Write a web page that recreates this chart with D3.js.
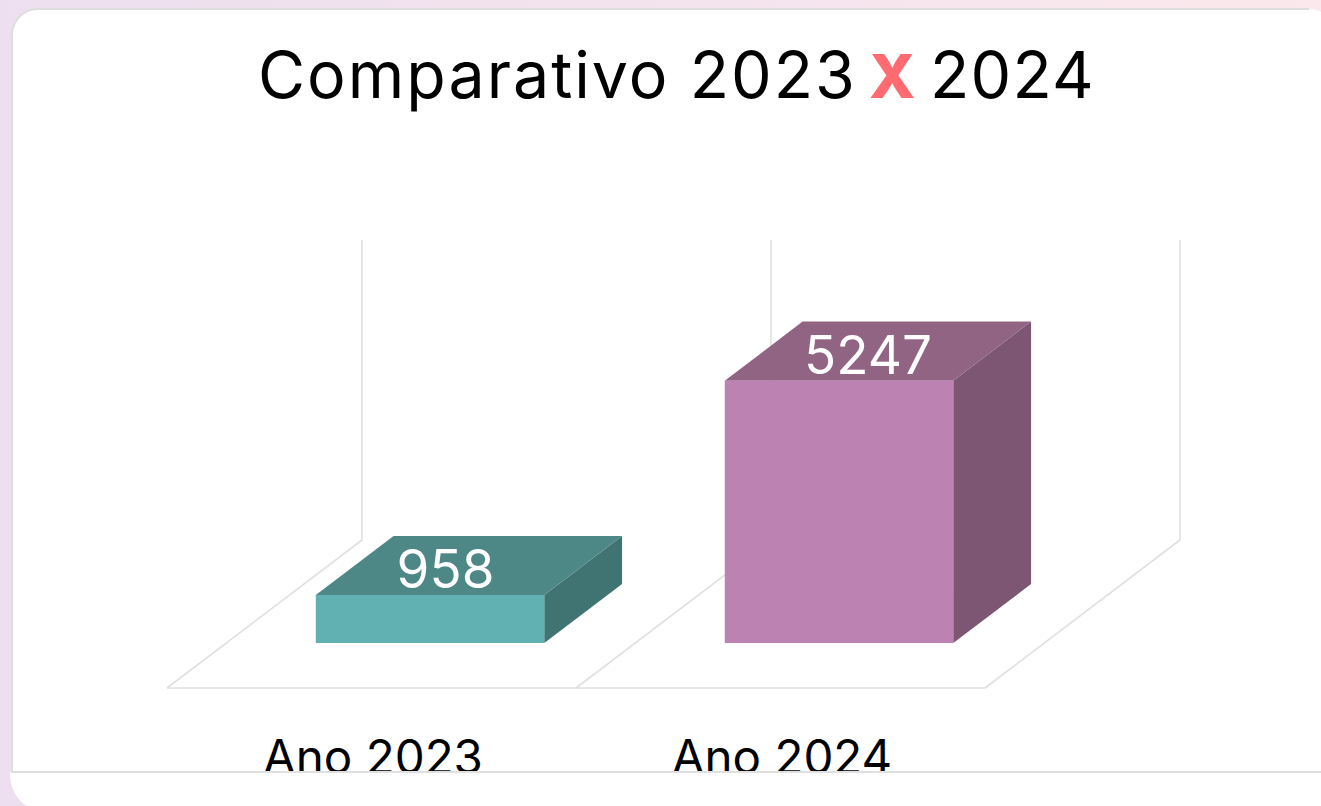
<!DOCTYPE html>
<html><head><meta charset="utf-8">
<style>html,body{margin:0;padding:0;background:#fff;overflow:hidden}svg{display:block}</style>
<script src="https://cdn.jsdelivr.net/npm/d3@7"></script></head>
<body><svg id="c" width="1321" height="806"></svg>
<script>
const categories = ["Ano 2023","Ano 2024"];
const values = [958,5247];
const yTicks = [0,6000];
const frontColors = ["#62b1b2","#bc82b2"];
const topColors = ["#4d8887","#916484"];
const sideColors = ["#407473","#7c5672"];
const titleTexts = ["Comparativo 2023","X","2024"];
const titleColors = ["#000","#ff6b70","#000"];
const titleWeights = [400,800,400];

const svg = d3.select("#c");
const font = "Inter, 'Open Sans', sans-serif";
const defs = svg.append("defs");
const g = defs.append("linearGradient").attr("id","bg");
g.append("stop").attr("offset","0").attr("stop-color","#eddfef");
g.append("stop").attr("offset","1").attr("stop-color","#fae8ec");
defs.append("clipPath").attr("id","clipAxis").append("rect").attr("x",0).attr("y",0).attr("width",1321).attr("height",771);

svg.append("rect").attr("width",1321).attr("height",806).attr("fill","url(#bg)");
svg.append("path").attr("fill","#fff").attr("d","M12 772V35A26 26 0 0 1 38 9H1309A26 26 0 0 1 1335 35V830H60L27 806A30 36 0 0 1 10 774V772Z");
svg.append("path").attr("d","M12 772V35A26 26 0 0 1 38 9H1309").attr("fill","none").attr("stroke","#dedede").attr("stroke-width",2);
svg.append("line").attr("x1",11).attr("x2",1321).attr("y1",772).attr("y2",772).attr("stroke","#e0e0e0").attr("stroke-width",2);

const titleX = [258,869,930], titleSize = [64.5,61,64.5], titleSpacing = [2,0,1.2];
svg.append("g").attr("font-family",font).selectAll("text").data(titleTexts).join("text")
  .attr("x",(d,i)=>titleX[i]).attr("y",98).attr("font-size",(d,i)=>titleSize[i])
  .attr("letter-spacing",(d,i)=>titleSpacing[i]).attr("font-weight",(d,i)=>titleWeights[i])
  .attr("fill",(d,i)=>titleColors[i]).text(d=>d);

// plot geometry
const floorY = 688, wallDX = 195, wallDY = 148;
const x = d3.scaleBand().domain(categories).range([167,985]).padding(0);
const y = d3.scaleLinear().domain(yTicks).range([0,300]);
const labelShift = d3.scaleLinear().domain(values).range([74.75,88.25]);
const dFront = 0.304, dBack = 0.703, padL = 89.5, padR = 91;
const pt = (px,d,h)=>[px+wallDX*d, floorY-wallDY*d-h];
const poly = pts=>"M"+pts.map(p=>p.join(",")).join("L")+"Z";
const grid = svg.append("g").attr("fill","none").attr("stroke","#e0e0e0").attr("stroke-width",1.6);
const edges = [...categories.map(c=>x(c)), x(categories[1])+x.bandwidth()];
edges.forEach(e=>{
  grid.append("path").attr("d",`M${e},${floorY}L${e+wallDX},${floorY-wallDY}L${e+wallDX},${floorY-wallDY-y(yTicks[1])}`);
});
grid.append("line").attr("x1",167).attr("x2",985).attr("y1",floorY).attr("y2",floorY);

categories.forEach((c,i)=>{
  const h = y(values[i]), l = x(c)+padL, r = x(c)+x.bandwidth()-padR;
  const b = svg.append("g");
  b.append("path").attr("fill",sideColors[i]).attr("d",poly([pt(r,dFront,0),pt(r,dBack,0),pt(r,dBack,h),pt(r,dFront,h)]));
  b.append("path").attr("fill",topColors[i]).attr("d",poly([pt(l,dFront,h),pt(r,dFront,h),pt(r,dBack,h),pt(l,dBack,h)]));
  b.append("path").attr("fill",frontColors[i]).attr("d",poly([pt(l,dFront,0),pt(r,dFront,0),pt(r,dFront,h),pt(l,dFront,h)]));
  const top = floorY - wallDY*(dFront+dBack)/2 - h;
  b.append("text").attr("x",(l+r)/2+labelShift(values[i])).attr("y",top+22.5).attr("text-anchor","middle").attr("fill","#fff")
    .attr("font-family",font).attr("font-size",53).text(values[i]);
  svg.append("text").attr("clip-path","url(#clipAxis)").attr("x",x(c)+x.bandwidth()/2+1.5).attr("y",774).attr("text-anchor","middle")
    .attr("font-family",font).attr("font-size",47.5).attr("fill","#000").text(c);
});
</script></body></html>
